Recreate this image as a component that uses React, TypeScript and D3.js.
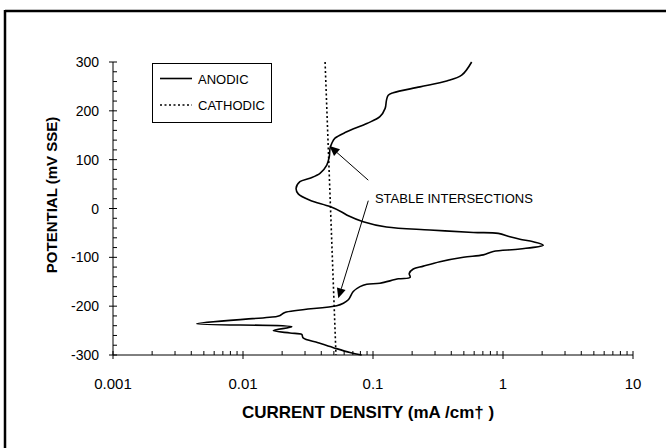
import React from 'react';
import * as d3 from 'd3';

// Anodic polarization curve (current density mA/cm², potential mV SSE)
const anodicCurrent = [
  0.574, 0.481, 0.369, 0.230, 0.143, 0.131, 0.127, 0.124, 0.113, 0.0896,
  0.0628, 0.0510, 0.0481, 0.0467, 0.0461, 0.0441, 0.0391, 0.0327, 0.0274, 0.0256,
  0.0266, 0.0327, 0.0467, 0.0574, 0.0646, 0.0841, 0.127, 0.274, 0.592, 0.920,
  1.13, 1.35, 1.71, 2.04, 1.35, 0.841, 0.705, 0.496, 0.327, 0.244,
  0.204, 0.190, 0.193, 0.157, 0.113, 0.0896, 0.0794, 0.0705, 0.0646, 0.0592,
  0.0526, 0.0210, 0.0193, 0.0182, 0.00441, 0.0237, 0.0171, 0.0230, 0.0283, 0.0290,
  0.0378, 0.0496, 0.0665, 0.0818,
];
const anodicPotential = [
  300, 273, 261, 249, 237, 232, 222, 205, 188, 174,
  157, 144, 133, 123, 106, 89, 72, 62, 55, 41,
  30, 17, 4, -7, -15, -27, -38, -44, -49, -51,
  -58, -63, -68, -75, -83, -88, -95, -100, -109, -118,
  -124, -133, -141, -144, -153, -155, -160, -170, -187, -194,
  -199, -213, -219, -221, -236, -242, -250, -255, -258, -265,
  -275, -285, -295, -300,
];
// Cathodic line
const cathodicCurrent = [0.0428, 0.0519];
const cathodicPotential = [300, -300];

const xTicks = [0.001, 0.01, 0.1, 1, 10];
const xTickLabels = ['0.001', '0.01', '0.1', '1', '10'];
const yTicks = [-300, -200, -100, 0, 100, 200, 300];
const yTickLabels = ['-300', '-200', '-100', '0', '100', '200', '300'];
const legendLabels = ['ANODIC', 'CATHODIC'];
const annotationText = 'STABLE INTERSECTIONS';
const annotationPos = [0.1035, 12];
const arrowTipCurrent = [0.0463, 0.0541];
const arrowTipPotential = [128, -184];
const arrowTailCurrent = [0.092, 0.092];
const arrowTailPotential = [58, 16];
const xTitle = 'CURRENT DENSITY (mA /cm\u2020 )';
const yTitle = 'POTENTIAL (mV SSE)';

const W = 666;
const H = 448;
const FONT = '"Liberation Sans", Arial, Helvetica, sans-serif';

export default function App() {
  const x = d3.scaleLog().domain([0.001, 10]).range([113, 633]);
  const y = d3.scaleLinear().domain([-300, 300]).range([355, 62]);

  const anodic = anodicCurrent.map((c, i) => [c, anodicPotential[i]] as [number, number]);
  const cathodic = cathodicCurrent.map((c, i) => [c, cathodicPotential[i]] as [number, number]);

  const line = d3
    .line<[number, number]>()
    .x((d) => x(d[0]))
    .y((d) => y(d[1]))
    .curve(d3.curveCatmullRom.alpha(0.5));
  const straight = d3
    .line<[number, number]>()
    .x((d) => x(d[0]))
    .y((d) => y(d[1]));

  const minorX: number[] = [];
  for (let e = -3; e < 1; e++) {
    for (let m = 2; m <= 9; m++) minorX.push(m * Math.pow(10, e));
  }
  const minorY: number[] = [];
  for (let v = -300; v < 300; v += 20) if (v % 100 !== 0) minorY.push(v);

  const x0 = x.range()[0];
  const x1 = x.range()[1];
  const y0 = y.range()[0];
  const y1 = y.range()[1];

  const arrows = arrowTipCurrent.map((_, i) => {
    const tx = x(arrowTipCurrent[i]);
    const ty = y(arrowTipPotential[i]);
    const sx = x(arrowTailCurrent[i]);
    const sy = y(arrowTailPotential[i]);
    const dx = tx - sx;
    const dy = ty - sy;
    const len = Math.sqrt(dx * dx + dy * dy);
    const ux = dx / len;
    const uy = dy / len;
    const hl = 10;
    const hw = 4.5;
    const bx = tx - ux * hl;
    const by = ty - uy * hl;
    const pts = [
      [tx, ty],
      [bx - uy * hw, by + ux * hw],
      [bx + uy * hw, by - ux * hw],
    ];
    return { sx, sy, bx, by, pts };
  });

  return (
    <svg
      width={W}
      height={H}
      style={{ position: 'absolute', left: 0, top: 0, background: '#fff' }}
      fontFamily={FONT}
    >
      {/* frame */}
      <line x1={5} y1={11} x2={W} y2={11} stroke="#000" strokeWidth={2.5} />
      <line x1={5} y1={10} x2={5} y2={H} stroke="#000" strokeWidth={2.5} />

      {/* axes */}
      <line x1={x0} y1={y0} x2={x1} y2={y0} stroke="#000" strokeWidth={1} />
      <line x1={x0} y1={y0} x2={x0} y2={y1} stroke="#000" strokeWidth={1} />
      {xTicks.map((t, i) => (
        <g key={'xt' + i}>
          <line x1={x(t)} x2={x(t)} y1={y0 - 4} y2={y0 + 4} stroke="#000" />
          <text x={x(t)} y={y0 + 34} textAnchor="middle" fontSize={15} fill="#000">
            {xTickLabels[i]}
          </text>
        </g>
      ))}
      {minorX.map((t, i) => (
        <line key={'xm' + i} x1={x(t)} x2={x(t)} y1={y0 - 4} y2={y0} stroke="#000" />
      ))}
      {yTicks.map((t, i) => (
        <g key={'yt' + i}>
          <line x1={x0 - 4} x2={x0 + 4} y1={y(t)} y2={y(t)} stroke="#000" />
          <text x={99} y={y(t) + 5} textAnchor="end" fontSize={14} fill="#000">
            {yTickLabels[i]}
          </text>
        </g>
      ))}
      {minorY.map((t, i) => (
        <line key={'ym' + i} x1={x0} x2={x0 + 4} y1={y(t)} y2={y(t)} stroke="#000" />
      ))}

      {/* titles */}
      <text x={368} y={418} textAnchor="middle" fontSize={17} fontWeight="bold" fill="#000">
        {xTitle}
      </text>
      <text
        transform={`translate(57,195) rotate(-90)`}
        textAnchor="middle"
        fontSize={15}
        fontWeight="bold"
        fill="#000"
      >
        {yTitle}
      </text>

      {/* series */}
      <path d={straight(cathodic) || ''} fill="none" stroke="#000" strokeWidth={1.6} strokeDasharray="2,2.5" />
      <path d={line(anodic) || ''} fill="none" stroke="#000" strokeWidth={1.6} />

      {/* legend */}
      <rect x={152.5} y={63.5} width={119} height={59} fill="#fff" stroke="#000" strokeWidth={1} />
      <line x1={160} x2={192} y1={78.5} y2={78.5} stroke="#000" strokeWidth={1.6} />
      <text x={198} y={83.5} fontSize={13} fill="#000">{legendLabels[0]}</text>
      <line x1={160} x2={192} y1={105} y2={105} stroke="#000" strokeWidth={1.6} strokeDasharray="2,2.5" />
      <text x={198} y={110} fontSize={13} fill="#000">{legendLabels[1]}</text>

      {/* annotations */}
      <text x={x(annotationPos[0])} y={y(annotationPos[1])} fontSize={13} fill="#000">
        {annotationText}
      </text>
      {arrows.map((a, i) => (
        <g key={'ar' + i}>
          <line x1={a.sx} y1={a.sy} x2={a.bx} y2={a.by} stroke="#000" strokeWidth={1} />
          <polygon points={a.pts.map((p) => p.join(',')).join(' ')} fill="#000" />
        </g>
      ))}
    </svg>
  );
}
